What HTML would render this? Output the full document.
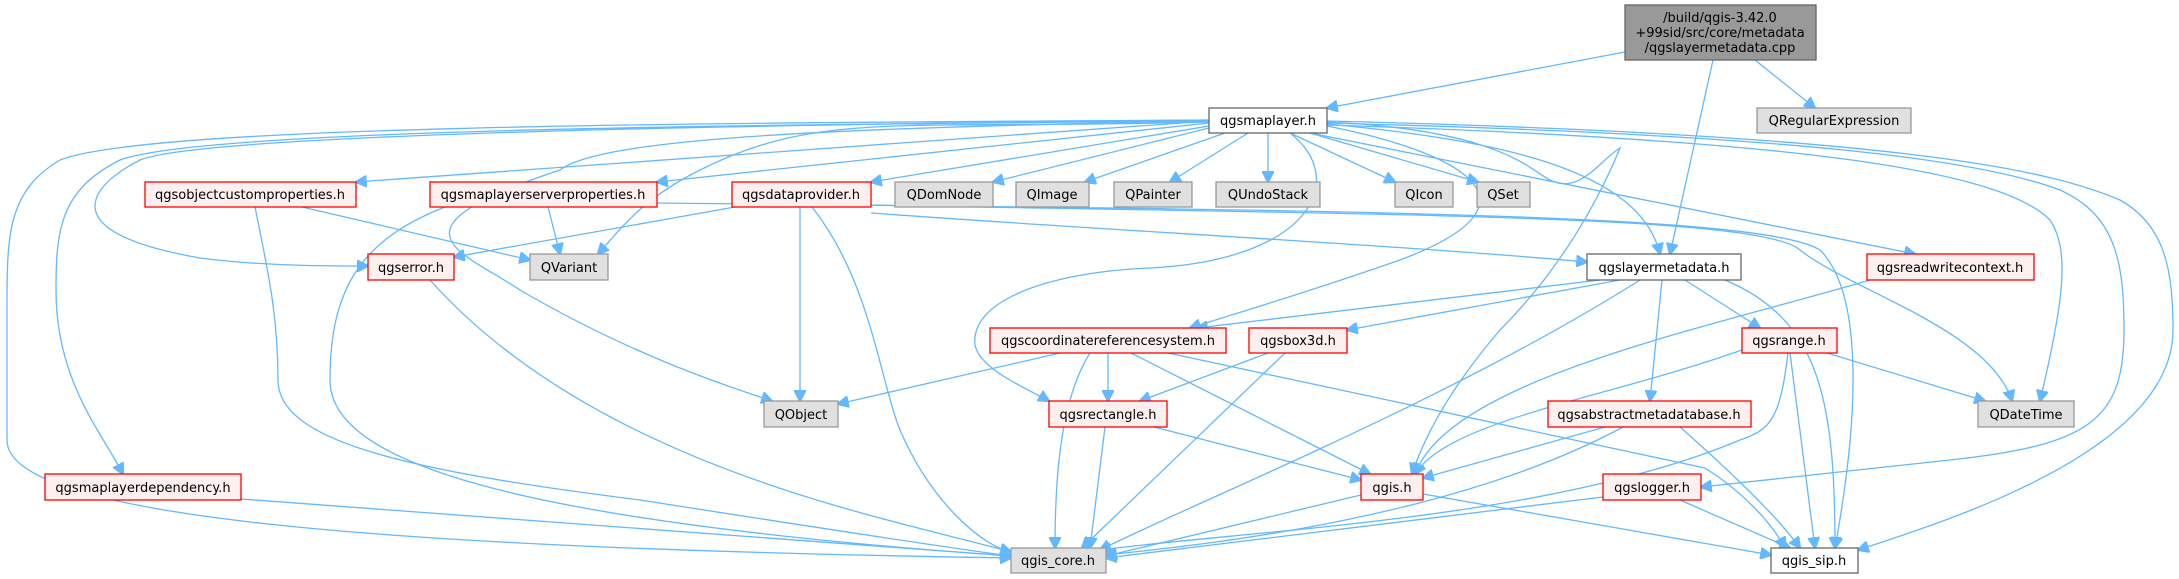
<!DOCTYPE html>
<html><head><meta charset="utf-8"><style>
html,body{margin:0;padding:0;background:#fff;}
svg{display:block}
text{font-family:"DejaVu Sans","Liberation Sans",sans-serif;font-size:13px;fill:#000}
.e{fill:none;stroke:#63b8ff;stroke-width:1.3}
</style></head><body>
<svg width="2179" height="579" viewBox="0 0 2179 579" xmlns="http://www.w3.org/2000/svg">
<defs><marker id="a" viewBox="0 0 10 10" refX="9" refY="5" markerWidth="12" markerHeight="12" markerUnits="userSpaceOnUse" orient="auto"><path d="M0,0 L10,5 L0,10 z" fill="#63b8ff" stroke="#63b8ff"/></marker></defs>
<g class="e" marker-end="url(#a)">
<path d="M1625,52 L1327,108"/>
<path d="M1713,60 L1670,254"/>
<path d="M1755,60 L1815,108"/>
<path d="M1248,133 L1170,182"/>
<path d="M1268,133 L1268,182"/>
<path d="M1290,133 L1395,182"/>
<path d="M1310,133 L1478,182"/>
<path d="M1225,133 L1085,182"/>
<path d="M1209,128 L993,182"/>
<path d="M1209,126 L871,182"/>
<path d="M1209,123 L657,182"/>
<path d="M1209,121 L356,182"/>
<path d="M1209,120 C700,125 200,135 140,160 C100,180 40,230 200,258 C260,266 330,266 368,266"/>
<path d="M1209,122 C900,130 820,110 700,170 C640,200 620,230 598,254"/>
<path d="M1209,121 C800,128 600,140 560,170 C380,230 460,250 520,290 C640,360 740,390 772,401"/>
<path d="M1209,120 C700,123 150,125 60,160 C10,190 7,230 7,300 L7,440 C7,520 400,548 1011,558"/>
<path d="M1209,121 C700,125 200,130 120,160 C60,190 56,230 56,290 C56,380 100,430 123,474"/>
<path d="M302,207 L530,260"/>
<path d="M255,207 C270,280 278,320 278,380 C278,440 400,470 640,500 C800,525 950,548 1011,556"/>
<path d="M548,207 L560,254"/>
<path d="M445,207 C360,240 330,290 330,380 C330,460 500,520 1011,556"/>
<path d="M657,203 C1300,210 1760,212 1820,250 C1860,290 1862,400 1835,548"/>
<path d="M871,205 C1400,215 1760,215 1800,250 C1850,290 1990,330 2012,401"/>
<path d="M871,213 C1100,230 1400,245 1587,262"/>
<path d="M735,207 L454,257"/>
<path d="M800,207 L800,401"/>
<path d="M812,207 C870,280 880,380 900,430 C930,500 980,545 1011,552"/>
<path d="M430,280 C600,470 900,520 1011,552"/>
<path d="M1290,133 C1350,180 1310,260 1150,268 C1050,272 970,300 975,345 C980,370 1030,390 1049,401"/>
<path d="M1327,126 C1450,150 1560,200 1400,260 C1300,295 1230,315 1190,328"/>
<path d="M1327,122 C1500,130 1530,170 1550,180 C1580,195 1600,160 1620,148 C1615,160 1580,250 1500,330 C1440,400 1420,450 1412,474"/>
<path d="M1327,124 C1500,140 1640,170 1660,254"/>
<path d="M1310,133 L1915,254"/>
<path d="M1327,125 C1800,140 2000,170 2050,220 C2070,250 2064,300 2040,401"/>
<path d="M1327,123 C1800,135 1980,160 2060,190 C2115,215 2124,260 2124,330 C2124,420 2090,445 1950,460 L1701,487"/>
<path d="M1327,121 C1900,135 2050,170 2120,200 C2165,225 2173,270 2173,330 C2173,450 1950,520 1858,550"/>
<path d="M1600,280 L1197,328"/>
<path d="M1620,280 L1347,330"/>
<path d="M1640,280 C1450,400 1200,500 1100,550"/>
<path d="M1685,280 L1760,328"/>
<path d="M1662,280 L1650,401"/>
<path d="M1725,280 C1820,320 1835,400 1835,548"/>
<path d="M1870,280 C1700,330 1450,380 1415,474"/>
<path d="M1060,353 L838,404"/>
<path d="M1108,353 L1108,401"/>
<path d="M1131,353 L1370,474"/>
<path d="M1168,353 L1705,468 C1740,490 1770,520 1785,548"/>
<path d="M1090,353 C1060,400 1055,480 1055,548"/>
<path d="M1268,353 L1140,401"/>
<path d="M1285,353 L1082,548"/>
<path d="M1154,427 L1361,480"/>
<path d="M1105,427 L1090,548"/>
<path d="M1742,350 C1600,400 1450,420 1415,474"/>
<path d="M1827,353 L1985,401"/>
<path d="M1790,353 L1815,548"/>
<path d="M1788,353 C1780,420 1770,430 1740,440 C1550,520 1250,530 1100,550"/>
<path d="M1605,427 L1423,478"/>
<path d="M1623,427 C1450,520 1200,545 1106,555"/>
<path d="M1680,427 C1740,480 1780,520 1800,548"/>
<path d="M1361,495 L1106,556"/>
<path d="M1423,494 L1771,555"/>
<path d="M1603,497 L1106,558"/>
<path d="M1680,500 L1790,548"/>
<path d="M241,499 L1011,556"/>
</g>
<g stroke-width="1.3">
<rect x="1625" y="5" width="191" height="55" fill="#999" stroke="#666"/>
<rect x="1209" y="108" width="118" height="25" fill="#fff" stroke="#666"/>
<rect x="1757" y="108" width="154" height="25" fill="#e0e0e0" stroke="#999"/>
<rect x="145" y="182" width="211" height="25" fill="#fff0f0" stroke="#f00"/>
<rect x="430" y="182" width="227" height="25" fill="#fff0f0" stroke="#f00"/>
<rect x="732" y="182" width="139" height="25" fill="#fff0f0" stroke="#f00"/>
<rect x="895" y="182" width="98" height="25" fill="#e0e0e0" stroke="#999"/>
<rect x="1016" y="182" width="73" height="25" fill="#e0e0e0" stroke="#999"/>
<rect x="1114" y="182" width="78" height="25" fill="#e0e0e0" stroke="#999"/>
<rect x="1216" y="182" width="104" height="25" fill="#e0e0e0" stroke="#999"/>
<rect x="1395" y="182" width="58" height="25" fill="#e0e0e0" stroke="#999"/>
<rect x="1477" y="182" width="53" height="25" fill="#e0e0e0" stroke="#999"/>
<rect x="368" y="254" width="86" height="26" fill="#fff0f0" stroke="#f00"/>
<rect x="530" y="254" width="78" height="26" fill="#e0e0e0" stroke="#999"/>
<rect x="1587" y="254" width="154" height="26" fill="#fff" stroke="#666"/>
<rect x="1867" y="254" width="167" height="26" fill="#fff0f0" stroke="#f00"/>
<rect x="990" y="328" width="236" height="25" fill="#fff0f0" stroke="#f00"/>
<rect x="1249" y="328" width="98" height="25" fill="#fff0f0" stroke="#f00"/>
<rect x="1742" y="328" width="95" height="25" fill="#fff0f0" stroke="#f00"/>
<rect x="764" y="401" width="74" height="26" fill="#e0e0e0" stroke="#999"/>
<rect x="1049" y="401" width="118" height="26" fill="#fff0f0" stroke="#f00"/>
<rect x="1548" y="401" width="203" height="26" fill="#fff0f0" stroke="#f00"/>
<rect x="1978" y="401" width="96" height="26" fill="#e0e0e0" stroke="#999"/>
<rect x="45" y="474" width="196" height="26" fill="#fff0f0" stroke="#f00"/>
<rect x="1361" y="474" width="62" height="26" fill="#fff0f0" stroke="#f00"/>
<rect x="1603" y="474" width="98" height="26" fill="#fff0f0" stroke="#f00"/>
<rect x="1011" y="548" width="95" height="25" fill="#e0e0e0" stroke="#999"/>
<rect x="1771" y="548" width="87" height="25" fill="#fff" stroke="#666"/>
</g>
<g text-anchor="middle">
<text x="1720" y="22">/build/qgis-3.42.0</text>
<text x="1720" y="37">+99sid/src/core/metadata</text>
<text x="1720" y="52">/qgslayermetadata.cpp</text>
<text x="1268" y="125">qgsmaplayer.h</text>
<text x="1834" y="125">QRegularExpression</text>
<text x="250" y="199">qgsobjectcustomproperties.h</text>
<text x="543" y="199">qgsmaplayerserverproperties.h</text>
<text x="801" y="199">qgsdataprovider.h</text>
<text x="944" y="199">QDomNode</text>
<text x="1052" y="199">QImage</text>
<text x="1153" y="199">QPainter</text>
<text x="1268" y="199">QUndoStack</text>
<text x="1424" y="199">QIcon</text>
<text x="1503" y="199">QSet</text>
<text x="411" y="272">qgserror.h</text>
<text x="569" y="272">QVariant</text>
<text x="1664" y="272">qgslayermetadata.h</text>
<text x="1950" y="272">qgsreadwritecontext.h</text>
<text x="1108" y="345">qgscoordinatereferencesystem.h</text>
<text x="1298" y="345">qgsbox3d.h</text>
<text x="1789" y="345">qgsrange.h</text>
<text x="801" y="419">QObject</text>
<text x="1108" y="419">qgsrectangle.h</text>
<text x="1649" y="419">qgsabstractmetadatabase.h</text>
<text x="2026" y="419">QDateTime</text>
<text x="143" y="492">qgsmaplayerdependency.h</text>
<text x="1392" y="492">qgis.h</text>
<text x="1652" y="492">qgslogger.h</text>
<text x="1058" y="565">qgis_core.h</text>
<text x="1814" y="565">qgis_sip.h</text>
</g>
</svg>
</body></html>
